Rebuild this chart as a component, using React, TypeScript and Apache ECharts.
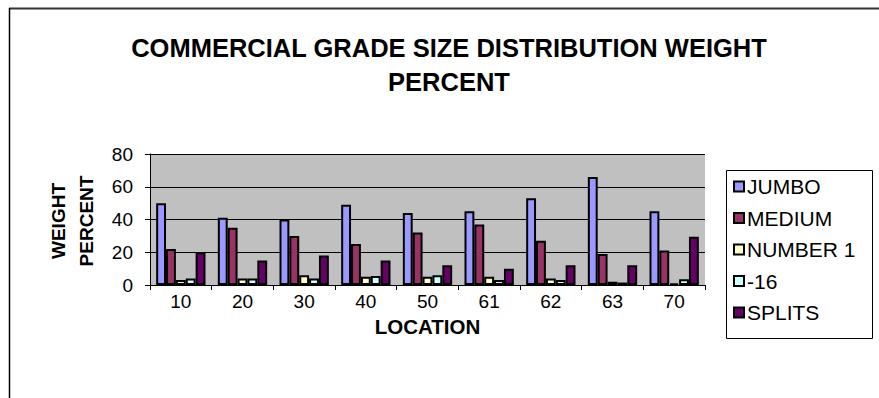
import React, { useEffect, useRef } from "react";
import * as echarts from "echarts";

const locations = ["10", "20", "30", "40", "50", "61", "62", "63", "70"];
const jumbo = [50, 41, 40, 49, 44, 45, 53, 66, 45];
const medium = [22, 35, 30, 25, 32, 37, 27, 19, 21];
const number1 = [3, 4, 6, 5, 5, 5, 4, 2, 1];
const minus16 = [4, 4, 4, 5.5, 6, 3, 3, 1.5, 3.5];
const splits = [20, 15, 18, 15, 12, 10, 12, 12, 29.5];

const seriesNames = ["JUMBO", "MEDIUM", "NUMBER 1", "-16", "SPLITS"];
const seriesData = [jumbo, medium, number1, minus16, splits];
const seriesColors = ["#9999FF", "#993366", "#FFFFCC", "#CCFFFF", "#660066"];

const FONT = "'Liberation Sans', Arial, sans-serif";

export default function App() {
  const ref = useRef<HTMLDivElement>(null);
  useEffect(() => {
    if (!ref.current) return;
    const chart = echarts.init(ref.current, null, { renderer: "svg" });
    chart.setOption({
      animation: false,
      backgroundColor: "#ffffff",
      title: {
        text: "COMMERCIAL GRADE SIZE DISTRIBUTION WEIGHT\nPERCENT",
        left: 444,
        top: 26,
        textAlign: "center",
        textStyle: {
          fontFamily: FONT,
          fontSize: 25.5,
          fontWeight: "bold",
          color: "#000",
          lineHeight: 34,
        },
      },
      grid: {
        left: 150,
        right: 174,
        top: 154,
        bottom: 113,
        show: true,
        backgroundColor: "#C0C0C0",
        borderWidth: 0,
      },
      legend: {
        orient: "vertical",
        left: 733,
        top: 176,
        itemWidth: 10,
        itemHeight: 10,
        itemGap: 10.5,
        icon: "rect",
        padding: 0,
        textStyle: {
          fontFamily: FONT,
          fontSize: 21,
          color: "#000",
          lineHeight: 21,
          padding: [0, 0, 0, -2],
        },
        data: seriesNames,
      },
      xAxis: {
        type: "category",
        data: locations,
        name: "LOCATION",
        nameLocation: "middle",
        nameGap: 31,
        nameTextStyle: {
          fontFamily: FONT,
          fontSize: 20.5,
          fontWeight: "bold",
          color: "#000",
        },
        axisLine: { lineStyle: { color: "#000", width: 1 } },
        axisTick: { show: true, length: 5, lineStyle: { color: "#000" } },
        axisLabel: {
          fontFamily: FONT,
          fontSize: 19,
          color: "#000",
          margin: 7,
        },
        splitLine: { show: false },
      },
      yAxis: {
        type: "value",
        min: 0,
        max: 80,
        interval: 20,
        axisLine: { show: true, lineStyle: { color: "#000", width: 1 } },
        axisTick: { show: true, length: 5, lineStyle: { color: "#000" } },
        axisLabel: {
          fontFamily: FONT,
          fontSize: 19,
          color: "#000",
          margin: 17,
        },
        splitLine: { show: true, lineStyle: { color: "#000", width: 1 } },
      },
      series: seriesNames.map((name, i) => ({
        name,
        type: "bar",
        data: seriesData[i],
        barGap: "0%",
        barCategoryGap: "20%",
        itemStyle: {
          color: seriesColors[i],
          borderColor: "#000",
          borderWidth: 2,
        },
      })),
      graphic: [
        {
          type: "line",
          shape: { x1: 9, y1: 8.5, x2: 879, y2: 8.5 },
          style: { stroke: "#333", lineWidth: 2 },
        },
        {
          type: "line",
          shape: { x1: 9.5, y1: 8, x2: 9.5, y2: 398 },
          style: { stroke: "#000", lineWidth: 1.5 },
        },
        {
          type: "rect",
          shape: { x: 726.5, y: 170.5, width: 146, height: 168 },
          style: { fill: "none", stroke: "#000", lineWidth: 1 },
        },
        {
          type: "text",
          x: 72,
          y: 221,
          rotation: Math.PI / 2,
          style: {
            text: "WEIGHT\nPERCENT",
            font: `bold 19px ${FONT}`,
            fill: "#000",
            textAlign: "center",
            textVerticalAlign: "middle",
            lineHeight: 28,
          },
        },
      ],
    });
    return () => chart.dispose();
  }, []);
  return (
    <div
      ref={ref}
      style={{ position: "fixed", left: 0, top: 0, width: 879, height: 398 }}
    />
  );
}
